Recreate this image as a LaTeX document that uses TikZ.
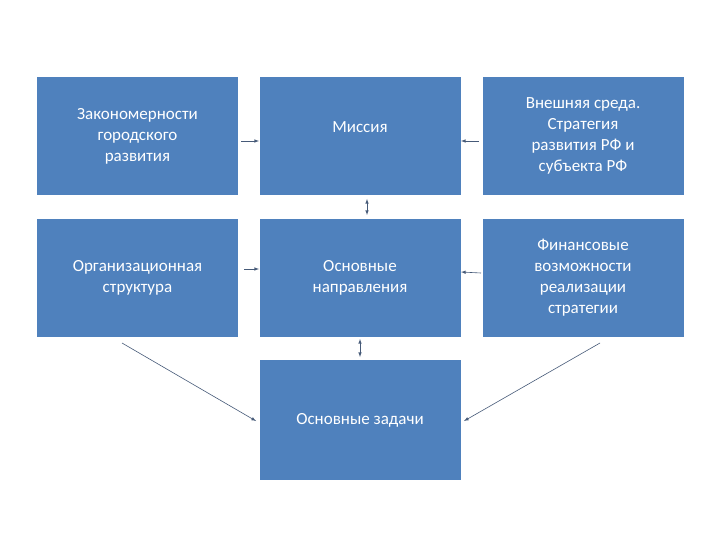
\documentclass[tikz,border=0pt]{standalone}
\usepackage{fontspec}
\setmainfont{Carlito}
\begin{document}
\begin{tikzpicture}[x=1pt,y=-1pt,
  box/.style={fill={rgb,255:red,79;green,129;blue,189}, draw=none, minimum width=201pt, minimum height=118pt, inner sep=0pt, text=white, align=center, font=\fontsize{17}{21}\selectfont},
  con/.style={draw={rgb,255:red,70;green,90;blue,120}, line width=0.6pt, -latex}]
\useasboundingbox (0,0) rectangle (720,540);
\fill[white] (0,0) rectangle (720,540);
\node[box] (a) at (137.5,136) {Закономерности\\городского\\развития};
\node[box] (b) at (360,136) {Миссия\\[-0.5em]\strut};
\node[box] (c) at (583,136) {Внешняя среда.\\Стратегия\\развития РФ и\\субъекта РФ};
\node[box] (d) at (137.5,278) {Организационная\\структура};
\node[box] (e) at (360,278) {Основные\\направления};
\node[box] (f) at (583,278) {Финансовые\\возможности\\реализации\\стратегии};
\node[box, minimum height=120pt] (g) at (360,420) {Основные задачи};
\coordinate (a1) at (241,141); \coordinate (b1) at (259,141);
\coordinate (c1) at (479,141); \coordinate (b2) at (461,141);
\draw[con] (a1) -- (b1);
\draw[con] (c1) -- (b2);
\coordinate (v1) at (367,199); \coordinate (v2) at (367,215);
\draw[con,latex-latex] (v1) -- (v2);
\coordinate (d1) at (244,269); \coordinate (e1) at (259,269);
\draw[con] (d1) -- (e1);
\coordinate (f1) at (481,273); \coordinate (e2) at (461,272);
\draw[con] (f1) -- (e2);
\coordinate (v3) at (360,339); \coordinate (v4) at (360,357);
\draw[con,latex-latex] (v3) -- (v4);
\coordinate (p1) at (122,343); \coordinate (g1) at (256,421);
\draw[con] (p1) -- (g1);
\coordinate (p2) at (600,343); \coordinate (g2) at (464,421);
\draw[con] (p2) -- (g2);
\end{tikzpicture}
\end{document}
